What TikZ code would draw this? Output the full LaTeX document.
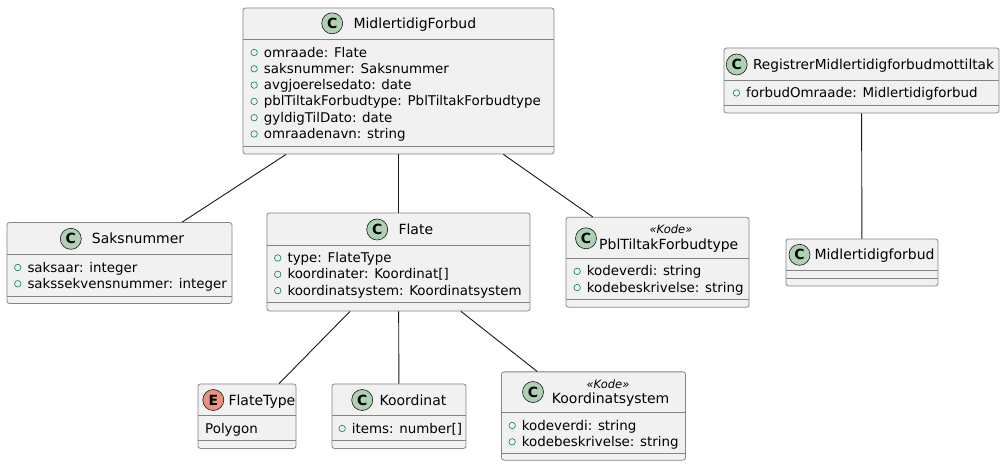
\documentclass[tikz,border=0pt]{standalone}
\usepackage{fontspec}
\usepackage{xcolor}
\usepackage{tikz}
\setmainfont{DejaVu Sans}
\definecolor{boxfill}{HTML}{F1F1F1}
\definecolor{boxline}{HTML}{858585}
\definecolor{uline}{HTML}{181818}
\definecolor{classicon}{HTML}{ADD1B2}
\definecolor{enumicon}{HTML}{EB937F}
\definecolor{pubgreen}{HTML}{038048}
\begin{document}
\begin{tikzpicture}[x=1pt,y=-1pt,
	classbox/.style={rectangle, rounded corners=2.5pt, fill=boxfill, draw=boxline, line width=0.8pt, inner sep=0pt},
	sepline/.style={draw=boxline, line width=0.8pt},
	assoc/.style={draw=uline, line width=0.9pt},
	cicon/.style={circle, fill=classicon, draw=uline, line width=0.6pt, minimum size=21pt, inner sep=0pt, font=\fontsize{14}{14}\selectfont\bfseries},
	eicon/.style={cicon, fill=enumicon},
	cname/.style={anchor=base west, inner sep=0pt, font=\fontsize{14}{16}\selectfont},
	stereo/.style={anchor=base, inner sep=0pt, font=\fontsize{11.5}{13}\selectfont\itshape},
	pubdot/.style={circle, draw=pubgreen, line width=0.6pt, minimum size=6.5pt, inner sep=0pt, label distance=6pt},
	plain/.style={anchor=base west, inner sep=0pt, text height=9pt, text depth=0pt, font=\fontsize{13.4}{15}\selectfont},
	attr/.style={plain, label={[pubdot]left:{}}}]
	\fill[white] (0,0) rectangle (1005,466);
	\useasboundingbox (0,0) rectangle (1005,466);

	\node[classbox, minimum width=311, minimum height=146] (mf) at (398.5,81) {};
	\draw[sepline] (mf.west |- 0,39.5) -- (mf.east |- 0,39.5);
	\draw[sepline] (mf.west |- 0,146) -- (mf.east |- 0,146);
	\node[cicon] (mfc) at (332.2,23.3) {C};
	\node[cname] (mfn) at (353.3,28.3) {MidlertidigForbud};
	\node[attr] (mfa1) at (263.7,57) {omraade: Flate};
	\node[attr] (mfa2) at (263.7,73.3) {saksnummer: Saksnummer};
	\node[attr] (mfa3) at (263.7,89.6) {avgjoerelsedato: date};
	\node[attr] (mfa4) at (263.7,105.9) {pblTiltakForbudtype: PblTiltakForbudtype};
	\node[attr] (mfa5) at (263.7,122.2) {gyldigTilDato: date};
	\node[attr] (mfa6) at (263.7,138.5) {omraadenavn: string};

	\node[classbox, minimum width=225, minimum height=81] (saks) at (119.5,263) {};
	\draw[sepline] (saks.west |- 0,254.5) -- (saks.east |- 0,254.5);
	\draw[sepline] (saks.west |- 0,296) -- (saks.east |- 0,296);
	\node[cicon] (saksc) at (70.8,238.8) {C};
	\node[cname] (saksn) at (91.7,243.8) {Saksnummer};
	\node[attr] (saksa1) at (27.3,272) {saksaar: integer};
	\node[attr] (saksa2) at (27.3,288.3) {sakssekvensnummer: integer};

	\node[classbox, minimum width=263, minimum height=98] (flate) at (398.5,262) {};
	\draw[sepline] (flate.west |- 0,245) -- (flate.east |- 0,245);
	\draw[sepline] (flate.west |- 0,302.6) -- (flate.east |- 0,302.6);
	\node[cicon] (flatec) at (377.2,229.5) {C};
	\node[cname] (flaten) at (398.3,234.5) {Flate};
	\node[attr] (flatea1) at (287.3,262.5) {type: FlateType};
	\node[attr] (flatea2) at (287.3,278.8) {koordinater: Koordinat[]};
	\node[attr] (flatea3) at (287.3,295.1) {koordinatsystem: Koordinatsystem};

	\node[classbox, minimum width=183, minimum height=90] (pbl) at (657.5,262.3) {};
	\draw[sepline] (pbl.west |- 0,258) -- (pbl.east |- 0,258);
	\draw[sepline] (pbl.west |- 0,299.6) -- (pbl.east |- 0,299.6);
	\node[cicon] (pblc) at (586,238.3) {C};
	\node[stereo] (pbls) at (671,233.3) {«Kode»};
	\node[cname] (pbln) at (599,249) {PblTiltakForbudtype};
	\node[attr] (pbla1) at (586.7,275.8) {kodeverdi: string};
	\node[attr] (pbla2) at (586.7,292.1) {kodebeskrivelse: string};

	\node[classbox, minimum width=275, minimum height=65] (reg) at (861.5,80.5) {};
	\draw[sepline] (reg.west |- 0,80.5) -- (reg.east |- 0,80.5);
	\draw[sepline] (reg.west |- 0,105) -- (reg.east |- 0,105);
	\node[cicon] (regc) at (736.7,64.5) {C};
	\node[cname, font=\fontsize{13.7}{16}\selectfont] (regn) at (752.8,69.5) {RegistrerMidlertidigforbudmottiltak};
	\node[attr] (rega1) at (746,97.5) {forbudOmraade: Midlertidigforbud};

	\node[classbox, minimum width=152, minimum height=47] (mlf) at (862,262.5) {};
	\draw[sepline] (mlf.west |- 0,270.5) -- (mlf.east |- 0,270.5);
	\draw[sepline] (mlf.west |- 0,278) -- (mlf.east |- 0,278);
	\node[cicon] (mlfc) at (799.5,254.8) {C};
	\node[cname] (mlfn) at (814.3,259.8) {Midlertidigforbud};

	\node[classbox, minimum width=98, minimum height=64.5] (ftype) at (247,416.2) {};
	\draw[sepline] (ftype.west |- 0,415.5) -- (ftype.east |- 0,415.5);
	\draw[sepline] (ftype.west |- 0,440.7) -- (ftype.east |- 0,440.7);
	\node[eicon] (ftypec) at (213.3,400) {E};
	\node[cname] (ftypen) at (228.3,405) {FlateType};
	\node[plain] (ftypea1) at (205,433) {Polygon};

	\node[classbox, minimum width=134, minimum height=64.5] (koord) at (399,416.2) {};
	\draw[sepline] (koord.west |- 0,415.5) -- (koord.east |- 0,415.5);
	\draw[sepline] (koord.west |- 0,440.7) -- (koord.east |- 0,440.7);
	\node[cicon] (koordc) at (362.2,400) {C};
	\node[cname] (koordn) at (379.3,405) {Koordinat};
	\node[attr] (koorda1) at (351.7,433) {items: number[]};

	\node[classbox, minimum width=184, minimum height=88.3] (ksys) at (593.5,416) {};
	\draw[sepline] (ksys.west |- 0,412.5) -- (ksys.east |- 0,412.5);
	\draw[sepline] (ksys.west |- 0,453.3) -- (ksys.east |- 0,453.3);
	\node[cicon] (ksysc) at (533,392) {C};
	\node[stereo] (ksyss) at (608,388) {«Kode»};
	\node[cname] (ksysn) at (551.7,403.5) {Koordinatsystem};
	\node[attr] (ksysa1) at (521.7,430) {kodeverdi: string};
	\node[attr] (ksysa2) at (521.7,446.3) {kodebeskrivelse: string};

	\draw[assoc] (mf) -- (saks);
	\draw[assoc] (mf) -- (flate);
	\draw[assoc] (mf) -- (pbl);
	\draw[assoc] (flate) -- (ftype);
	\draw[assoc] (flate) -- (koord);
	\draw[assoc] (flate) -- (ksys);
	\draw[assoc] (reg) -- (mlf);
\end{tikzpicture}
\end{document}
